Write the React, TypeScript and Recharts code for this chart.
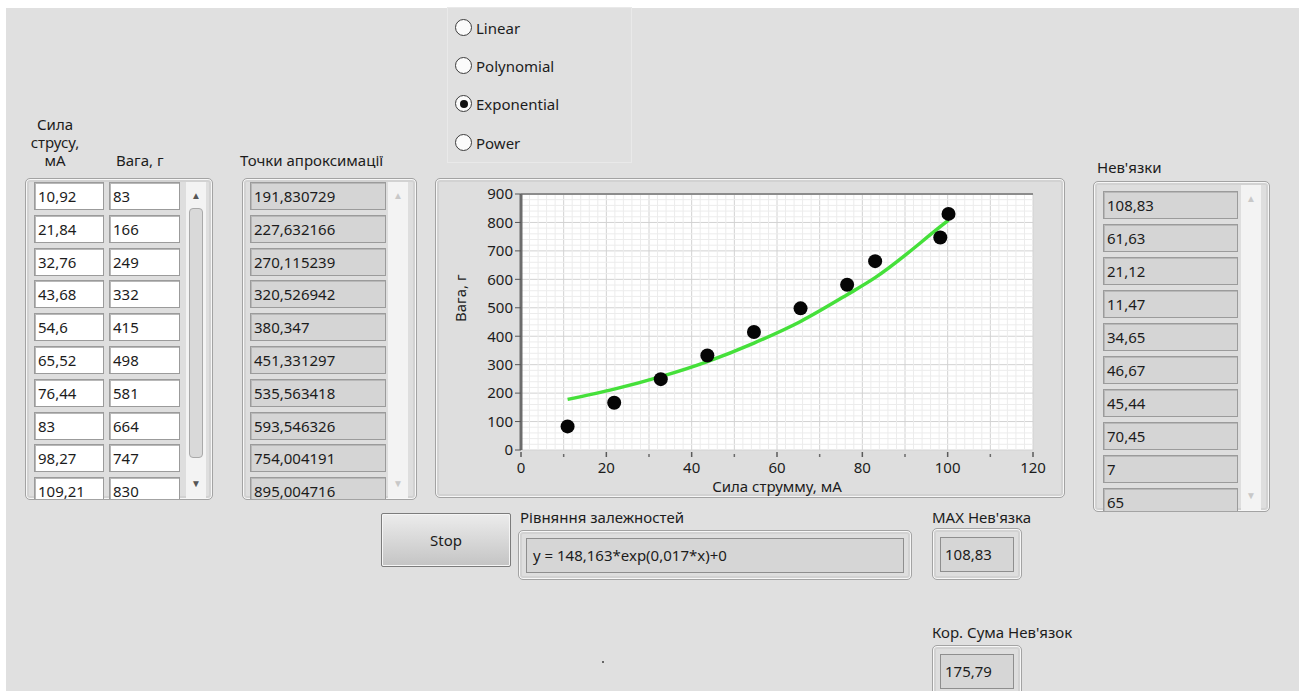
import React from 'react';
import { ComposedChart, Line, Scatter, XAxis, YAxis, CartesianGrid, ReferenceLine } from 'recharts';

// table columns
const currentMa = [10.92, 21.84, 32.76, 43.68, 54.6, 65.52, 76.44, 83, 98.27, 109.21];
const weightG = [83, 166, 249, 332, 415, 498, 581, 664, 747, 830];
const approxPoints = [191.830729, 227.632166, 270.115239, 320.526942, 380.347, 451.331297, 535.563418, 593.546326, 754.004191, 895.004716];
const residuals = [108.83, 61.63, 21.12, 11.47, 34.65, 46.67, 45.44, 70.45, 7, 65];

// what the graph shows
const plottedCurrent = [10.92, 21.84, 32.76, 43.68, 54.6, 65.52, 76.44, 83, 98.27, 100.2];
const plottedWeight = [83, 166, 249, 332, 415, 498, 581, 664, 747, 830];
const fitWeight = [178, 214, 258, 311, 376, 452, 546, 606, 785, 808];

const xTicks = [0, 10, 20, 30, 40, 50, 60, 70, 80, 90, 100, 110, 120];
const yTicks = [0, 100, 200, 300, 400, 500, 600, 700, 800, 900];
const minorX = Array.from({ length: 61 }, (_, i) => i * 2).filter((v) => v % 10 !== 0);
const minorY = Array.from({ length: 46 }, (_, i) => i * 20).filter((v) => v % 100 !== 0);

const fitModes = ['Linear', 'Polynomial', 'Exponential', 'Power'];
const selectedMode = 'Exponential';

const equation = 'y = 148,163*exp(0,017*x)+0';
const maxResidual = 108.83;
const residualSum = 175.79;

const measured = plottedCurrent.map((x, i) => ({ x, y: plottedWeight[i] }));
const fitted = plottedCurrent.map((x, i) => ({ x, y: fitWeight[i] }));

const fmt = (v: number) => String(v).replace('.', ',');

const FONT = '"Noto Sans", sans-serif';
const TEXT = '#1c1c1c';

const abs = (left: number, top: number, width?: number, height?: number): React.CSSProperties => ({
  position: 'absolute',
  left,
  top,
  width,
  height,
});

function Label({ left, top, children, style }: { left: number; top: number; children: React.ReactNode; style?: React.CSSProperties }) {
  return (
    <div style={{ ...abs(left, top), fontSize: 15, lineHeight: '20px', color: TEXT, whiteSpace: 'nowrap', ...style }}>
      {children}
    </div>
  );
}

// raised rounded frame around a control
function Frame({ left, top, width, height, children }: { left: number; top: number; width: number; height: number; children?: React.ReactNode }) {
  return (
    <div
      style={{
        ...abs(left, top, width, height),
        boxSizing: 'border-box',
        border: '1px solid #a3a3a3',
        borderRadius: 5,
        background: '#dedede',
        boxShadow: 'inset 0 0 0 1px #f7f7f7, inset 0 0 0 3px #d2d2d2',
        overflow: 'hidden',
      }}
    >
      {children}
    </div>
  );
}

function Cell({ left, top, width, value, dark }: { left: number; top: number; width: number; value: string; dark?: boolean }) {
  return (
    <div
      style={{
        ...abs(left, top, width, 28),
        boxSizing: 'border-box',
        background: dark ? '#d5d5d5' : '#ffffff',
        border: '1px solid #9b9b9b',
        boxShadow: 'inset 1px 1px 0 #b8b8b8',
        fontSize: 15,
        lineHeight: '26px',
        paddingLeft: 3,
        color: TEXT,
      }}
    >
      {value}
    </div>
  );
}

function ScrollBar({ left, top, height, faded, thumb }: { left: number; top: number; height: number; faded?: boolean; thumb?: boolean }) {
  const arrow = faded ? '#c8c8c8' : '#555';
  return (
    <div style={{ ...abs(left, top, 20, height), background: '#f3f3f3' }}>
      <div style={{ ...abs(0, 6, 20, 14), textAlign: 'center', fontSize: 10, lineHeight: '14px', color: arrow }}>▲</div>
      {thumb && (
        <div
          style={{
            ...abs(3, 26, 14, height - 66),
            boxSizing: 'border-box',
            background: '#d9d9d9',
            border: '1px solid #a9a9a9',
            borderRadius: 4,
          }}
        />
      )}
      <div style={{ ...abs(0, height - 22, 20, 14), textAlign: 'center', fontSize: 10, lineHeight: '14px', color: arrow }}>▼</div>
    </div>
  );
}

function XTick(props: any) {
  const { x, y, payload } = props;
  const major = payload.value % 20 === 0;
  return (
    <g>
      {major ? (
        <>
          <line x1={x} x2={x} y1={y + 2} y2={y + 7} stroke="#5a5a5a" strokeWidth={1.5} />
          <text x={x} y={y + 17} textAnchor="middle" dominantBaseline="central" fontSize={15} fill={TEXT} fontFamily={FONT}>
            {payload.value}
          </text>
        </>
      ) : (
        <line x1={x} x2={x} y1={y + 4} y2={y + 7} stroke="#6a6a6a" strokeWidth={1.5} />
      )}
    </g>
  );
}

const Dot = (props: any) => <circle cx={props.cx} cy={props.cy} r={7} fill="#050505" />;

function Graph() {
  return (
    <ComposedChart width={630} height={320} margin={{ top: 16, right: 32, bottom: 0, left: 30 }} style={{ fontFamily: FONT }}>
      <CartesianGrid fill="#ffffff" stroke="#d2d2d2" />
      {minorX.map((v) => (
        <ReferenceLine key={`mx${v}`} x={v} stroke="#ececec" strokeWidth={1} />
      ))}
      {minorY.map((v) => (
        <ReferenceLine key={`my${v}`} y={v} stroke="#ececec" strokeWidth={1} />
      ))}
      <ReferenceLine y={900} stroke="#8c8c8c" strokeWidth={2} />
      <XAxis
        type="number"
        dataKey="x"
        domain={[0, 120]}
        ticks={xTicks}
        interval={0}
        allowDataOverflow
        height={48}
        tickSize={0}
        tickMargin={0}
        axisLine={false}
        tickLine={false}
        tick={<XTick />}
        label={{ value: 'Сила струмму, мА', position: 'insideBottom', offset: 6, fill: TEXT, fontSize: 15 }}
      />
      <YAxis
        type="number"
        dataKey="y"
        domain={[0, 900]}
        ticks={yTicks}
        interval={0}
        allowDataOverflow
        width={56}
        tickSize={6}
        tickMargin={2}
        axisLine={{ stroke: '#6c6c6c', strokeWidth: 3 }}
        tickLine={{ stroke: '#555555' }}
        tick={{ fill: TEXT, fontSize: 15 }}
        label={{ value: 'Вага, г', angle: -90, position: 'insideLeft', offset: 0, dx: -4, fill: TEXT, fontSize: 15 }}
      />
      <Line data={fitted} dataKey="y" type="monotone" stroke="#45e03a" strokeWidth={3.5} dot={false} isAnimationActive={false} />
      <Scatter data={measured} dataKey="y" shape={<Dot />} isAnimationActive={false} />
    </ComposedChart>
  );
}

export default function App() {
  const leftRow = (i: number) => 3 + i * 32.8;
  const rightRow = (i: number) => 9 + i * 33;
  return (
    <div style={{ position: 'absolute', left: 0, top: 0, width: 1299, height: 691, background: '#ffffff', overflow: 'hidden', fontFamily: FONT }}>
      <div style={{ ...abs(6, 8, 1293, 683), background: '#e0e0e0' }} />

      {/* fit type selector */}
      <div style={{ ...abs(447, 7, 185, 156), boxSizing: 'border-box', border: '1px solid #e9e9e9' }} />
      {fitModes.map((m, i) => (
        <div key={m} style={abs(455, [19, 57, 95, 134][i], 180, 18)}>
          <div
            style={{
              ...abs(0, 0, 17, 17),
              boxSizing: 'border-box',
              borderRadius: '50%',
              border: '1px solid #3c3c3c',
              background: '#fbfbfb',
            }}
          >
            {m === selectedMode && <div style={{ ...abs(3.5, 3.5, 8, 8), borderRadius: '50%', background: '#111' }} />}
          </div>
          <Label left={21} top={-1}>{m}</Label>
        </div>
      ))}

      {/* measured data */}
      <Label left={5} top={115} style={{ width: 100, textAlign: 'center', lineHeight: '18px', whiteSpace: 'normal' }}>
        Сила<br />струсу,<br />мА
      </Label>
      <Label left={116} top={150}>Вага, г</Label>
      <Frame left={25} top={178} width={188} height={322}>
        {currentMa.map((v, i) => (
          <Cell key={`c${i}`} left={8} top={leftRow(i)} width={70} value={fmt(v)} />
        ))}
        {weightG.map((v, i) => (
          <Cell key={`w${i}`} left={83} top={leftRow(i)} width={71} value={fmt(v)} />
        ))}
        <ScrollBar left={160} top={3} height={316} thumb />
      </Frame>

      <Label left={240} top={150}>Точки апроксимації</Label>
      <Frame left={242} top={178} width={175} height={322}>
        {approxPoints.map((v, i) => (
          <Cell key={`a${i}`} left={7} top={leftRow(i)} width={136} value={fmt(v)} dark />
        ))}
        <ScrollBar left={145} top={3} height={316} faded />
      </Frame>

      {/* graph */}
      <Frame left={435} top={178} width={630} height={320}>
        <div style={abs(-1, -1)}>
          <Graph />
        </div>
      </Frame>

      <Label left={1097} top={157}>Нев'язки</Label>
      <Frame left={1093} top={181} width={177} height={331}>
        {residuals.map((v, i) => (
          <Cell key={`r${i}`} left={9} top={rightRow(i)} width={135} value={fmt(v)} dark />
        ))}
        <ScrollBar left={147} top={3} height={325} faded />
      </Frame>

      {/* controls below */}
      <div
        style={{
          ...abs(381, 513, 130, 54),
          boxSizing: 'border-box',
          border: '1px solid #7c7c7c',
          borderRadius: 2,
          background: 'linear-gradient(#ececec, #c4c4c4)',
          boxShadow: 'inset 0 0 0 1px #f5f5f5',
          textAlign: 'center',
          lineHeight: '52px',
          fontSize: 15,
          color: TEXT,
        }}
      >
        Stop
      </div>

      <Label left={520} top={507}>Рівняння залежностей</Label>
      <Frame left={518} top={530} width={394} height={50}>
        <div style={{ ...abs(7, 7, 378, 35), boxSizing: 'border-box', background: '#d6d6d6', border: '1px solid #8e8e8e', paddingLeft: 6, fontSize: 15, lineHeight: '33px', color: TEXT }}>
          {equation}
        </div>
      </Frame>

      <Label left={932} top={507}>MAX Нев'язка</Label>
      <Frame left={932} top={528} width={90} height={52}>
        <div style={{ ...abs(7, 8, 74, 35), boxSizing: 'border-box', background: '#d6d6d6', border: '1px solid #8e8e8e', paddingLeft: 4, fontSize: 15, lineHeight: '33px', color: TEXT }}>
          {fmt(maxResidual)}
        </div>
      </Frame>

      <Label left={932} top={622}>Кор. Сума Нев'язок</Label>
      <Frame left={932} top={645} width={90} height={52}>
        <div style={{ ...abs(7, 8, 74, 35), boxSizing: 'border-box', background: '#d6d6d6', border: '1px solid #8e8e8e', paddingLeft: 4, fontSize: 15, lineHeight: '33px', color: TEXT }}>
          {fmt(residualSum)}
        </div>
      </Frame>

      <div style={{ ...abs(602, 661, 2, 2), background: '#666' }} />
    </div>
  );
}
